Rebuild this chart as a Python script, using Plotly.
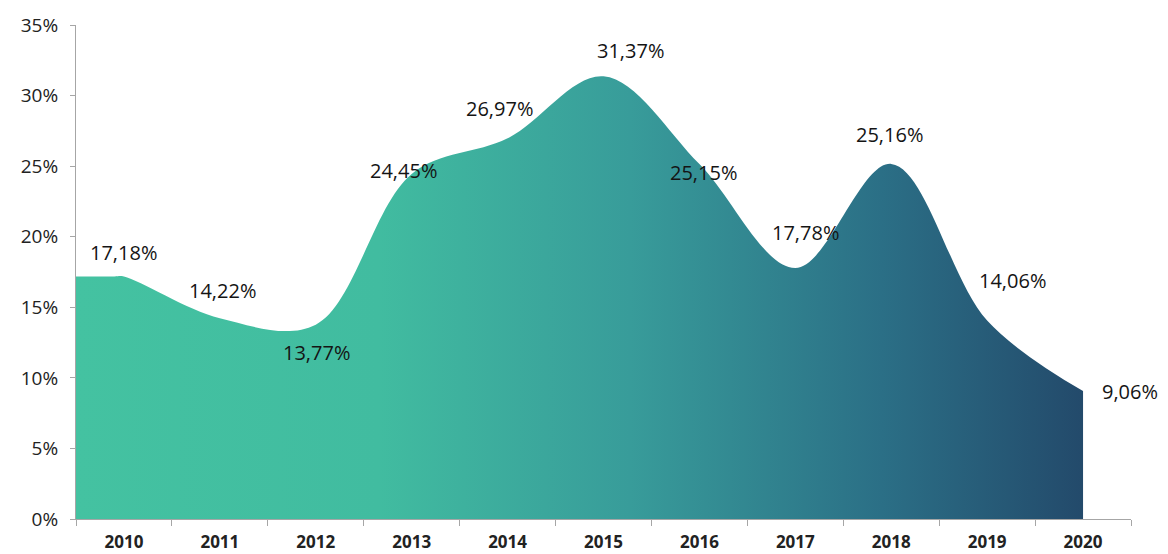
import plotly.graph_objects as go

years = ["2010", "2011", "2012", "2013", "2014", "2015", "2016", "2017", "2018", "2019", "2020"]
rates = [17.18, 14.22, 13.77, 24.45, 26.97, 31.37, 25.15, 17.78, 25.16, 14.06, 9.06]
y_ticks = [0, 5, 10, 15, 20, 25, 30, 35]

# label placement (pixels) so the labels sit where the original had them
label_dx = [0, 3, 1, -8, -8, 27, 4, 10, -2, 25, 47]
label_dy = [24, 28, -28, 3, 30, 26, -8, 36, 29, 40, 0]

idx = list(range(len(years)))
# the area starts flat at the left edge of the axis
xs = [idx[0] - 0.5, idx[0] - 0.1] + idx
ys = [rates[0], rates[0]] + rates

fig = go.Figure()
fig.add_trace(go.Scatter(
    x=xs, y=ys, mode="lines",
    line=dict(shape="spline", smoothing=1.0, width=0, color="rgba(0,0,0,0)"),
    fill="tozeroy",
    fillgradient=dict(
        type="horizontal",
        colorscale=[[0, "#44C2A1"], [0.3, "#41BCA0"], [0.55, "#389C9A"],
                    [0.8, "#2B6F86"], [1, "#234A6B"]],
    ),
    hoverinfo="skip", showlegend=False,
))

for i, v in enumerate(rates):
    fig.add_annotation(
        x=i, y=v, text=f"{v:.2f}%".replace(".", ","),
        showarrow=False, xshift=label_dx[i], yshift=label_dy[i],
        font=dict(size=20, color="#141414", family="Open Sans"),
    )

# page body has an 8px margin, so the figure is a bit smaller than the window
fig.update_layout(
    width=1160, height=546,
    margin=dict(l=68, r=37, t=17, b=35),
    plot_bgcolor="white", paper_bgcolor="white",
    font=dict(family="Open Sans", color="#222222"),
)
fig.update_xaxes(
    range=[-0.5, len(years) - 0.5], tickvals=idx, ticktext=years,
    ticks="", showgrid=False, zeroline=False, automargin=False,
    showline=True, linecolor="#A6A6A6", linewidth=1,
    ticklabelstandoff=8,
    tickfont=dict(size=17, family="Open Sans", weight="bold", color="#222222"),
    minor=dict(tickvals=[i - 0.5 for i in range(len(years) + 1)],
               ticks="outside", ticklen=6, tickcolor="#A6A6A6", showgrid=False),
)
fig.update_yaxes(
    range=[0, 35], tickvals=y_ticks, ticktext=[f"{t}%" for t in y_ticks],
    showgrid=False, zeroline=False, automargin=False,
    showline=True, linecolor="#A6A6A6", linewidth=1,
    ticks="outside", ticklen=5, tickcolor="#A6A6A6",
    ticklabelstandoff=8,
    tickfont=dict(size=19, family="Open Sans", color="#222222"),
)

fig.write_html("out.html")
